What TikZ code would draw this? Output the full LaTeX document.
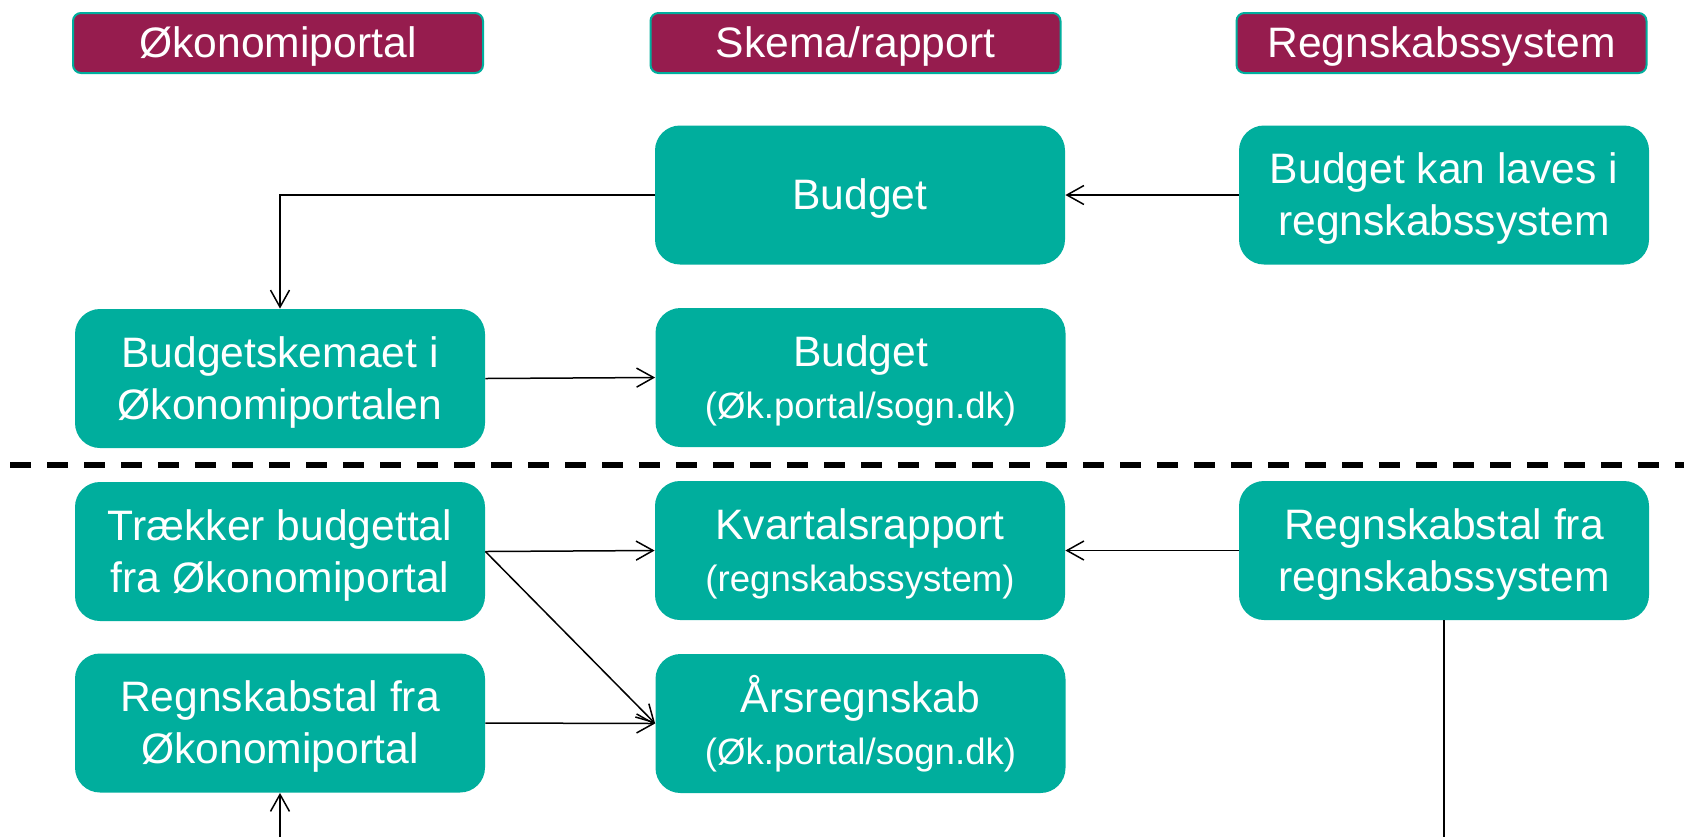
\documentclass[tikz,border=0pt]{standalone}
\usepackage{fontspec}
\setmainfont{Liberation Sans}
\usetikzlibrary{arrows.meta}
\definecolor{tealbox}{RGB}{0,174,157}
\definecolor{plum}{RGB}{150,28,78}
\newcommand{\hovedfont}{\fontsize{21.3}{26}\selectfont}
\newcommand{\underfont}{\fontsize{18.3}{23.5}\selectfont}
\newcommand{\stoette}{\rule[-0.212em]{0pt}{1.117em}}

\begin{document}
\begin{tikzpicture}[x=0.5pt,y=0.5pt]
              \tikzstyle{every node}+=[inner sep=0pt, text=white, align=center]
              \tikzstyle{hoved}=[draw=tealbox, line width=1pt, fill=plum, rounded corners=4pt, minimum width=205pt, minimum height=30pt, font=\hovedfont]
              \tikzstyle{boks}=[fill=tealbox, rounded corners=12.5pt, minimum width=205pt, minimum height=69.5pt, font=\hovedfont]
              \tikzstyle{pil}=[black, line width=0.75pt, -{Straight Barb[length=8.5pt,width=9.5pt]}]
              \useasboundingbox (0,0) rectangle (1684,-837);
              % kolonneoverskrifter
              \node [hoved] (hOek) at (278,-43) {\stoette Økonomiportal};
              \node [hoved] (hSkema) at (855.5,-43) {\stoette Skema/rapport};
              \node [hoved] (hRegn) at (1441.5,-43) {\stoette Regnskabssystem};
              % budget
              \node [boks] (budget) at (860,-195) {\stoette Budget};
              \node [boks] (budgetReg) at (1444,-195) {\stoette Budget kan laves i\\\stoette regnskabssystem};
              \node [boks] (skemaet) at (280,-378.5) {\stoette Budgetskemaet i\\\stoette Økonomiportalen};
              \node [boks] (budgetOek) at (860.5,-377.5) {\stoette Budget\\{\underfont\stoette(Øk.portal/sogn.dk)}};
              % regnskab
              \node [boks] (traekker) at (280,-551.5) {\stoette Trækker budgettal\\\stoette fra Økonomiportal};
              \node [boks] (kvartal) at (860,-550.5) {\stoette Kvartalsrapport\\{\underfont\stoette(regnskabssystem)}};
              \node [boks] (regnReg) at (1444,-550.5) {\stoette Regnskabstal fra\\\stoette regnskabssystem};
              \node [boks] (regnOek) at (280,-723) {\stoette Regnskabstal fra\\\stoette Økonomiportal};
              \node [boks] (aars) at (860.5,-723.5) {\stoette Årsregnskab\\{\underfont\stoette(Øk.portal/sogn.dk)}};
              \coordinate (skelV) at (10,-465);
              \coordinate (skelH) at (1684,-465);
              \coordinate (bundV) at (280,-837);
              \coordinate (bundH) at (1444,-837);
              \draw [black, line width=2.6pt, dash pattern=on 10.5pt off 8pt] (skelV) -- (skelH);
              \draw [pil] (budgetReg.west) -- (budget.east);
              \draw [pil] (budget.west) -| (skemaet.north);
              \draw [pil] (skemaet.east) -- (budgetOek.west);
              \draw [pil] (traekker.east) -- (kvartal.west);
              \draw [pil] (traekker.east) -- (aars.west);
              \draw [pil] (regnOek.east) -- (aars.west);
              \draw [pil] (regnReg.west) -- (kvartal.east);
              \draw [black, line width=0.75pt] (regnReg.south) -- (bundH);
              \draw [pil] (bundV) -- (regnOek.south);
            \end{tikzpicture}
\end{document}
